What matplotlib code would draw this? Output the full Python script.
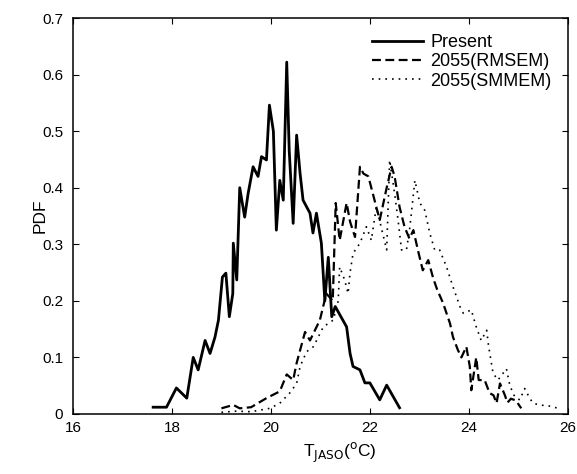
"""
PDF of JASO-mean temperature: present vs. two 2055 ensemble means.
Values read off the published figure by hand.
"""
import matplotlib
matplotlib.use("Agg")
import matplotlib.pyplot as plt

# ── data ──────────────────────────────────────────────────────────────────────
present_t = [17.62, 17.89, 18.09, 18.30, 18.43, 18.53, 18.67, 18.77, 18.87, 18.94,
             19.02, 19.09, 19.16, 19.23, 19.24, 19.31, 19.37, 19.47, 19.54, 19.64,
             19.74, 19.81, 19.91, 19.97, 20.05, 20.11, 20.18, 20.25, 20.32, 20.37,
             20.45, 20.52, 20.59, 20.65, 20.79, 20.85, 20.92, 21.02, 21.09, 21.16,
             21.23, 21.30, 21.53, 21.60, 21.66, 21.80, 21.90, 22.00, 22.20, 22.34,
             22.60]
present_pdf = [0.012, 0.012, 0.046, 0.028, 0.100, 0.078, 0.130, 0.107, 0.136, 0.166,
               0.242, 0.249, 0.172, 0.213, 0.302, 0.237, 0.400, 0.348, 0.390, 0.437,
               0.420, 0.455, 0.449, 0.546, 0.500, 0.325, 0.413, 0.378, 0.622, 0.466,
               0.337, 0.493, 0.425, 0.378, 0.355, 0.320, 0.355, 0.302, 0.200, 0.277,
               0.172, 0.190, 0.154, 0.107, 0.084, 0.078, 0.055, 0.055, 0.025, 0.051,
               0.011]

rmsem_t = [19.00, 19.24, 19.37, 19.60, 19.91, 20.18, 20.32, 20.45, 20.52, 20.69,
           20.79, 20.99, 21.12, 21.25, 21.31, 21.39, 21.53, 21.60, 21.70, 21.80,
           21.87, 21.97, 22.13, 22.20, 22.34, 22.44, 22.50, 22.60, 22.70, 22.80,
           22.88, 22.97, 23.07, 23.18, 23.28, 23.36, 23.48, 23.62, 23.68, 23.78,
           23.85, 23.95, 24.02, 24.05, 24.15, 24.20, 24.32, 24.42, 24.50, 24.56,
           24.63, 24.73, 24.78, 24.85, 24.95, 25.06]
rmsem_pdf = [0.010, 0.016, 0.010, 0.012, 0.028, 0.040, 0.070, 0.060, 0.090, 0.145,
             0.130, 0.166, 0.213, 0.200, 0.373, 0.307, 0.373, 0.340, 0.313, 0.437,
             0.425, 0.420, 0.366, 0.343, 0.400, 0.437, 0.420, 0.366, 0.331, 0.310,
             0.325, 0.290, 0.254, 0.272, 0.240, 0.220, 0.196, 0.160, 0.136, 0.113,
             0.100, 0.119, 0.084, 0.042, 0.100, 0.060, 0.060, 0.037, 0.033, 0.019,
             0.054, 0.033, 0.020, 0.027, 0.024, 0.010]

smmem_t = [19.00, 19.30, 19.60, 19.98, 20.18, 20.38, 20.52, 20.59, 20.72, 20.86,
           21.06, 21.26, 21.36, 21.39, 21.49, 21.56, 21.60, 21.66, 21.80, 21.93,
           22.03, 22.13, 22.23, 22.34, 22.40, 22.50, 22.57, 22.64, 22.74, 22.81,
           22.91, 23.01, 23.11, 23.21, 23.31, 23.41, 23.55, 23.68, 23.82, 23.89,
           24.05, 24.15, 24.25, 24.36, 24.40, 24.49, 24.59, 24.76, 24.83, 24.93,
           25.03, 25.13, 25.23, 25.30, 25.43, 25.63, 25.81]
smmem_pdf = [0.003, 0.005, 0.004, 0.010, 0.019, 0.037, 0.054, 0.084, 0.110, 0.119,
             0.154, 0.166, 0.200, 0.260, 0.237, 0.213, 0.250, 0.284, 0.302, 0.331,
             0.307, 0.366, 0.330, 0.290, 0.449, 0.390, 0.343, 0.290, 0.290, 0.331,
             0.413, 0.373, 0.360, 0.320, 0.290, 0.290, 0.260, 0.225, 0.190, 0.178,
             0.184, 0.154, 0.130, 0.148, 0.120, 0.072, 0.060, 0.080, 0.050, 0.030,
             0.025, 0.045, 0.028, 0.019, 0.016, 0.014, 0.010]

x_ticks = [16, 18, 20, 22, 24, 26]
y_ticks = [0, 0.1, 0.2, 0.3, 0.4, 0.5, 0.6, 0.7]
y_tick_labels = ["0", "0.1", "0.2", "0.3", "0.4", "0.5", "0.6", "0.7"]

plt.rcParams["font.family"] = ["Liberation Sans", "DejaVu Sans"]

fig = plt.figure(figsize=(5.77, 4.74), dpi=100)
ax = fig.add_axes([0.1265, 0.1266, 0.8575, 0.8354])

ax.plot(present_t, present_pdf, color="black", lw=2.0, ls="-", label="Present")
ax.plot(rmsem_t, rmsem_pdf, color="black", lw=1.6, ls=(0, (4, 2)),
        label="2055(RMSEM)")
ax.plot(smmem_t, smmem_pdf, color="black", lw=1.2, ls=(0, (1, 3)),
        label="2055(SMMEM)")

ax.set_xlim(16, 26)
ax.set_ylim(0, 0.7)
ax.set_xticks(x_ticks)
ax.set_yticks(y_ticks)
ax.set_yticklabels(y_tick_labels)
ax.tick_params(direction="in", top=True, right=True, labelsize=11,
               length=4, width=0.8)
ax.tick_params(axis="x", pad=5)
ax.tick_params(axis="y", pad=7)
for spine in ax.spines.values():
    spine.set_linewidth(1.1)

ax.set_xlabel(r"T$_{\mathrm{JASO}}$($^{\mathrm{o}}$C)", fontsize=12.5)
ax.xaxis.set_label_coords(0.54, -0.068)
ax.set_ylabel("PDF", fontsize=12.5)
ax.yaxis.set_label_coords(-0.067, 0.5)
ax.yaxis.label.set_verticalalignment("center")

ax.legend(loc="upper right", frameon=False, fontsize=13, handlelength=2.8,
          handletextpad=0.4, labelspacing=0.12, borderaxespad=0.6,
          borderpad=0.3)

fig.savefig("out.png", dpi=100)
